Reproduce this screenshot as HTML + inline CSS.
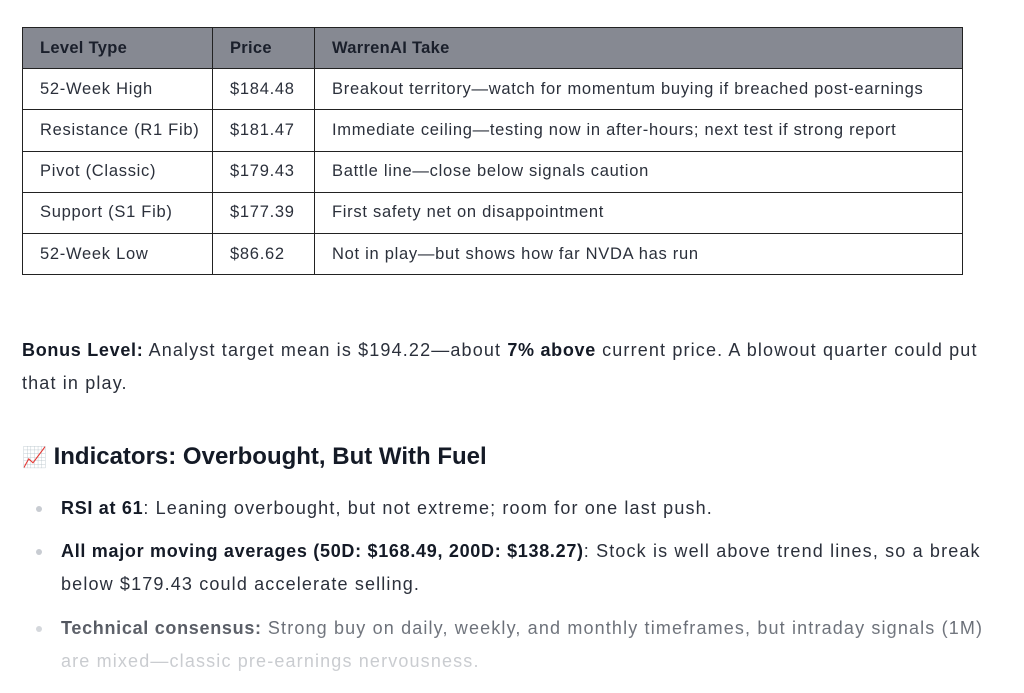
<!DOCTYPE html>
<html><head><meta charset="utf-8"><style>
body{margin:0;width:1024px;height:693px;background:#fff;position:relative;overflow:hidden;font-family:"Liberation Sans",sans-serif;color:#2b303b;}
table{position:absolute;left:22px;top:27px;border-collapse:collapse;font-size:16.5px;letter-spacing:0.72px;}
td,th{border:1.5px solid #222;height:40.2px;padding:0 0 0 17px;text-align:left;white-space:nowrap;}
th{background:#868992;color:#1a1f2b;font-weight:bold;letter-spacing:0.3px;}
.t{position:absolute;left:22px;font-size:18px;letter-spacing:1.15px;white-space:nowrap;}
b{color:#141a26;letter-spacing:0.7px;}
h2{position:absolute;left:22px;top:443px;margin:0;font-size:24px;color:#141a26;white-space:nowrap;}
.dot{position:absolute;left:36px;width:6px;height:6px;border-radius:3px;background:#c8ccd2;}
.fade{position:absolute;left:0;top:590px;width:1024px;height:103px;background:linear-gradient(rgba(255,255,255,0),rgba(255,255,255,.6));}
</style></head><body>
<table>
<tr><th style="width:172px">Level Type</th><th style="width:84px">Price</th><th style="width:630px">WarrenAI Take</th></tr>
<tr><td>52-Week High</td><td>$184.48</td><td>Breakout territory—watch for momentum buying if breached post-earnings</td></tr>
<tr><td>Resistance (R1 Fib)</td><td>$181.47</td><td>Immediate ceiling—testing now in after-hours; next test if strong report</td></tr>
<tr><td>Pivot (Classic)</td><td>$179.43</td><td>Battle line—close below signals caution</td></tr>
<tr><td>Support (S1 Fib)</td><td>$177.39</td><td>First safety net on disappointment</td></tr>
<tr><td>52-Week Low</td><td>$86.62</td><td>Not in play—but shows how far NVDA has run</td></tr>
</table>
<div class="t" style="top:340px"><b>Bonus Level:</b> Analyst target mean is $194.22—about <b>7% above</b> current price. A blowout quarter could put</div>
<div class="t" style="top:373px">that in play.</div>
<h2><span style="color:#d33;font-size:20px">📈</span> Indicators: Overbought, But With Fuel</h2>
<div class="dot" style="top:506px"></div>
<div class="t" style="left:61px;top:498px"><b>RSI at 61</b>: Leaning overbought, but not extreme; room for one last push.</div>
<div class="dot" style="top:549px"></div>
<div class="t" style="left:61px;top:541px"><b>All major moving averages (50D: $168.49, 200D: $138.27)</b>: Stock is well above trend lines, so a break</div>
<div class="t" style="left:61px;top:574px">below $179.43 could accelerate selling.</div>
<div class="dot" style="top:626px"></div>
<div class="t" style="left:61px;top:618px;color:#444a55"><b style="color:#2b303b">Technical consensus:</b> Strong buy on daily, weekly, and monthly timeframes, but intraday signals (1M)</div>
<div class="t" style="left:61px;top:651px;color:#a3a7ae">are mixed—classic pre-earnings nervousness.</div>
<div class="fade"></div>
</body></html>
